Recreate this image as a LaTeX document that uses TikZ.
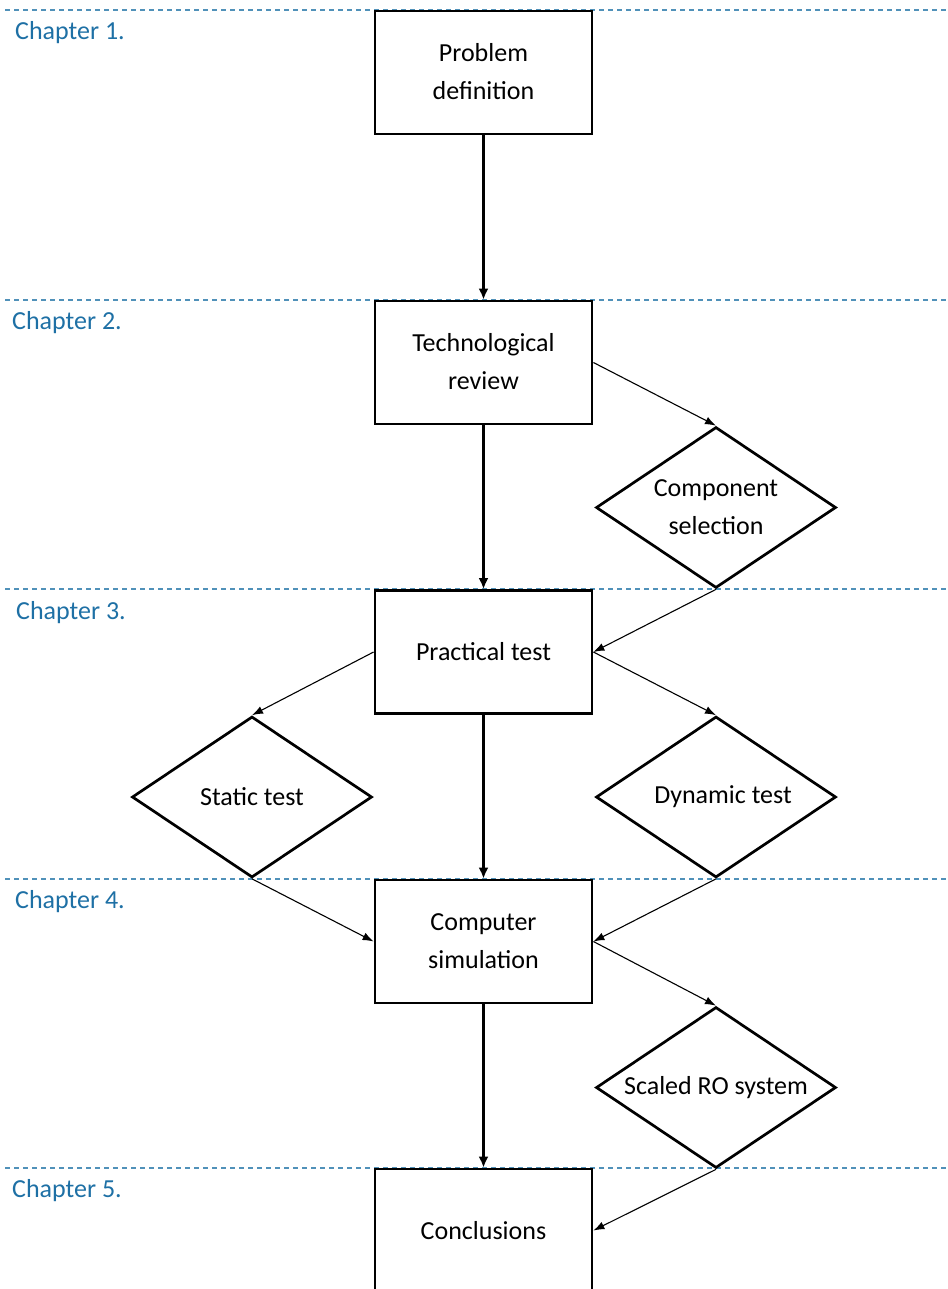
\documentclass[tikz,border=0pt]{standalone}
\usepackage{fontspec}
\setmainfont{Carlito}
\usetikzlibrary{shapes.geometric,arrows.meta}
\definecolor{chapblue}{RGB}{30,112,165}
\definecolor{dashblue}{RGB}{80,145,185}
\begin{document}
\begin{tikzpicture}[x=1pt,y=-1pt,
  box/.style={draw,fill=white,line width=2.8pt,minimum width=217pt,minimum height=123pt,inner sep=0pt,align=center,font=\fontsize{26}{38}\selectfont},
  dia/.style={draw,fill=white,diamond,line width=2.7pt,minimum width=240pt,minimum height=161pt,shape aspect=1.49,inner sep=0pt,align=center,font=\fontsize{26}{38}\selectfont},
  chap/.style={anchor=west,inner sep=0pt,text=chapblue,font=\fontsize{26}{30}\selectfont},
  chline/.style={dashblue,line width=1.2pt,dash pattern=on 5pt off 4pt},
  thick arrow/.style={line width=3.3pt,-{Latex[length=11pt,width=10pt]}},
  thin arrow/.style={line width=1.1pt,-{Latex[length=11pt,width=8pt]}}]
\clip (0,0) rectangle (947,1289);
% chapter separators
\foreach \yy in {10,300,589,879,1168} {\draw[chline] (5,\yy) -- (947,\yy);}
\node[chap] (c1) at (15,33) {Chapter 1.};
\node[chap] (c2) at (12,323) {Chapter 2.};
\node[chap] (c3) at (16,613) {Chapter 3.};
\node[chap] (c4) at (15,902) {Chapter 4.};
\node[chap] (c5) at (12,1191) {Chapter 5.};
% boxes
\node[box] (b1) at (483.5,72.5) {\raisebox{-3pt}{\begin{tabular}{@{}c@{}}Problem\\definition\end{tabular}}};
\node[box] (b2) at (483.5,362.5) {\raisebox{-3pt}{\begin{tabular}{@{}c@{}}Technological\\review\end{tabular}}};
\node[box] (b3) at (483.5,652) {\raisebox{-2pt}{Practical test}};
\node[box] (b4) at (483.5,941.5) {\raisebox{-3pt}{\begin{tabular}{@{}c@{}}Computer\\simulation\end{tabular}}};
\node[box] (b5) at (483.5,1230.5) {\raisebox{-2pt}{Conclusions}};
% diamonds
\node[dia] (cs) at (716,507.5) {Component\\selection};
\node[dia] (st) at (252,797) {Static test};
\node[dia] (dt) at (716,797) {\hspace*{14pt}Dynamic test};
\node[dia] (sr) at (716,1087.5) {Scaled RO system};
% main flow
\draw[thick arrow] (b1.south) -- (b2.north);
\draw[thick arrow] (b2.south) -- (b3.north);
\draw[thick arrow] (b3.south) -- (b4.north);
\draw[thick arrow] (b4.south) -- (b5.north);
% side flows
\draw[thin arrow] (b2.east) -- (cs.north);
\draw[thin arrow] (cs.south) -- (b3.east);
\draw[thin arrow] (b3.west) -- (st.north);
\draw[thin arrow] (b3.east) -- (dt.north);
\draw[thin arrow] (st.south) -- (b4.west);
\draw[thin arrow] (dt.south) -- (b4.east);
\draw[thin arrow] (b4.east) -- (sr.north);
\draw[thin arrow] (sr.south) -- (b5.east);
\end{tikzpicture}
\end{document}
